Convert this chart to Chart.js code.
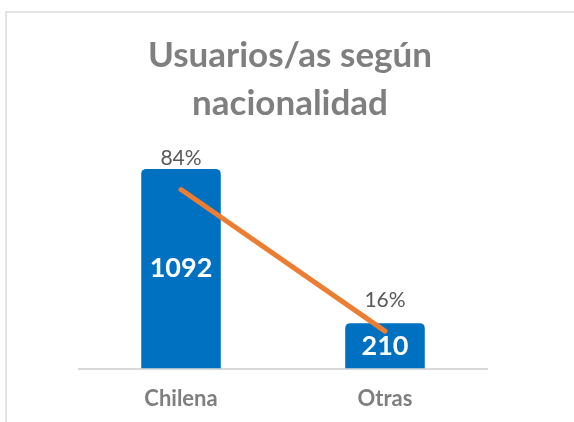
<!DOCTYPE html>
<html>
<head>
<meta charset="utf-8">
<script src="https://cdn.jsdelivr.net/npm/chart.js@4"></script>
<style>
  body { margin: 0; background: #fff; overflow: hidden; }
  #frame { position: absolute; left: 5px; top: 11px; width: 640px; height: 460px; border: 2px solid #e4e4e4; }
  #wrap { position: absolute; left: 0; top: 0; width: 574px; height: 422px; overflow: hidden; }
</style>
</head>
<body>
<div id="frame"></div>
<div id="wrap"><canvas id="natChart" width="574" height="440"></canvas></div>
<script>
const titleLines = ['Usuarios/as según', 'nacionalidad'];
const categories = ['Chilena', 'Otras'];
const users = [1092, 210];
const shares = [84, 16];

// labels inside the bars and above the line points, plus the two-line title
const labelPlugin = {
    id: 'labels',
    afterDatasetsDraw(chart) {
        const ctx = chart.ctx;
        ctx.save();
        ctx.textAlign = 'center';
        ctx.textBaseline = 'middle';

        const bars = chart.getDatasetMeta(1).data;
        ctx.fillStyle = '#ffffff';
        ctx.font = 'bold 27px Lato';
        bars.forEach((bar, i) => {
            ctx.fillText(String(users[i]), bar.x, (bar.y + bar.base) / 2);
        });

        const pts = chart.getDatasetMeta(0).data;
        ctx.fillStyle = '#595959';
        ctx.font = '21px Lato';
        pts.forEach((p, i) => {
            ctx.fillText(shares[i] + '%', p.x, p.y - 31);
        });

        ctx.fillStyle = '#7f7f7f';
        ctx.font = 'bold 35px Lato';
        ctx.textBaseline = 'alphabetic';
        ctx.fillText(titleLines[0], 290, 67);
        ctx.fillText(titleLines[1], 290, 115);
        ctx.restore();
    }
};

const ctx = document.getElementById('natChart').getContext('2d');
const myChart = new Chart(ctx, {
    data: {
        labels: categories,
        datasets: [{
            type: 'line',
            label: '%',
            data: shares,
            yAxisID: 'y2',
            borderColor: '#ED7D31',
            borderWidth: 5,
            borderCapStyle: 'round',
            pointRadius: 0,
            order: 0
        }, {
            type: 'bar',
            label: 'Usuarios/as',
            data: users,
            yAxisID: 'y',
            base: -50,
            backgroundColor: '#0070C0',
            borderRadius: { topLeft: 5, topRight: 5 },
            borderSkipped: false,
            categoryPercentage: 1,
            barPercentage: 0.39,
            order: 1
        }]
    },
    options: {
        responsive: false,
        animation: false,
        layout: { padding: { left: 79, right: 87, top: 150, bottom: 11 } },
        plugins: {
            legend: { display: false },
            tooltip: { enabled: false }
        },
        scales: {
            x: {
                grid: { display: false, drawTicks: false },
                border: { display: true, color: '#d9d9d9', width: 2 },
                ticks: {
                    color: '#7f7f7f',
                    padding: 17,
                    font: { family: 'Lato', size: 22, weight: 'bold' }
                }
            },
            y: { display: false, min: -50, max: 1200 },
            y2: { display: false, min: -2, max: 103 }
        }
    },
    plugins: [labelPlugin]
});
</script>
</body>
</html>
